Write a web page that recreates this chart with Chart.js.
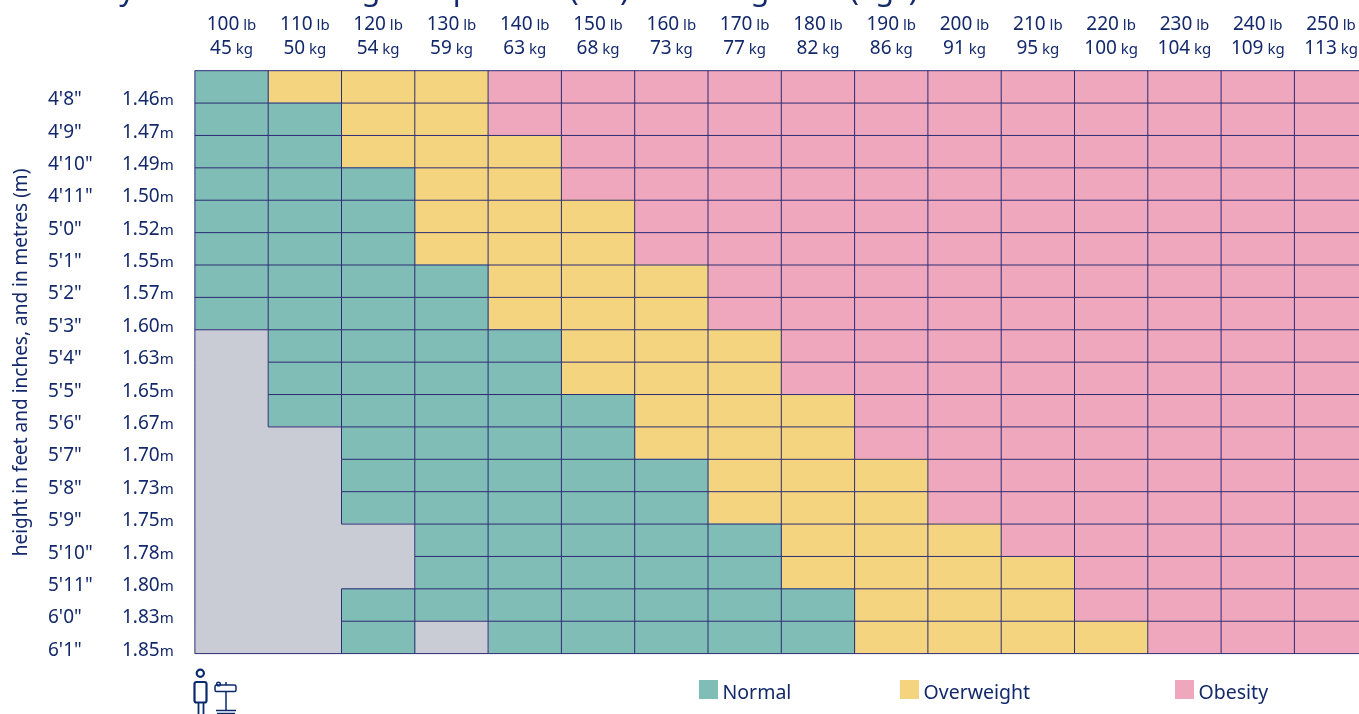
<!DOCTYPE html>
<html>
<head>
<meta charset="utf-8">
<title>Body mass index chart</title>
<script src="https://cdn.jsdelivr.net/npm/chart.js@4"></script>
<style>
html, body { margin: 0; padding: 0; overflow: hidden; background: #fff; width: 1359px; height: 714px; }
canvas { display: block; }
</style>
</head>
<body>
<canvas id="bmiChart" width="1376" height="714"></canvas>
<script>
const titleText = "Body mass index weight in pounds (lbs) and kilograms (kgs)";
const yTitleText = "height in feet and inches, and in metres (m)";
const pounds = [100, 110, 120, 130, 140, 150, 160, 170, 180, 190, 200, 210, 220, 230, 240, 250];
const kilos = [45, 50, 54, 59, 63, 68, 73, 77, 82, 86, 91, 95, 100, 104, 109, 113];
const feetInches = ["4'8\"", "4'9\"", "4'10\"", "4'11\"", "5'0\"", "5'1\"", "5'2\"", "5'3\"", "5'4\"", "5'5\"", "5'6\"", "5'7\"", "5'8\"", "5'9\"", "5'10\"", "5'11\"", "6'0\"", "6'1\""];
const metres = ["1.46", "1.47", "1.49", "1.50", "1.52", "1.55", "1.57", "1.60", "1.63", "1.65", "1.67", "1.70", "1.73", "1.75", "1.78", "1.80", "1.83", "1.85"];
// one string per height, one letter per weight column: U none, N normal, O overweight, B obesity
const bmiClass = [
    "NOOOBBBBBBBBBBBB",
    "NNOOBBBBBBBBBBBB",
    "NNOOOBBBBBBBBBBB",
    "NNNOOBBBBBBBBBBB",
    "NNNOOOBBBBBBBBBB",
    "NNNOOOBBBBBBBBBB",
    "NNNNOOOBBBBBBBBB",
    "NNNNOOOBBBBBBBBB",
    "UNNNNOOOBBBBBBBB",
    "UNNNNOOOBBBBBBBB",
    "UNNNNNOOOBBBBBBB",
    "UUNNNNOOOBBBBBBB",
    "UUNNNNNOOOBBBBBB",
    "UUNNNNNOOOBBBBBB",
    "UUUNNNNNOOOBBBBB",
    "UUUNNNNNOOOOBBBB",
    "UUNNNNNNNOOOBBBB",
    "UUNUNNNNNOOOOBBB"
];
const legendLabels = ["Normal", "Overweight", "Obesity"];
const legendKeys = ["N", "O", "B"];
const legendX = [699, 900, 1175];
const colors = { U: "#c9ccd5", N: "#80bdb7", O: "#f5d480", B: "#efa7be" };
const navy = "#13296b";
const gridLine = "#2c2c74";
const font = '"Noto Sans"';

function cellAt(row, col) {
    return bmiClass[row][col];
}

let datasets = pounds.map((lb, col) => ({
    label: lb + " lb",
    data: metres.map(() => 1),
    backgroundColor: ctx => colors[cellAt(ctx.dataIndex, col)],
    borderWidth: 0,
    inflateAmount: 0.5,
    categoryPercentage: 1,
    barPercentage: 1
}));

function mixedText(c, big, small, x, y, bigSize, smallSize, align) {
    c.font = bigSize + "px " + font;
    let w1 = c.measureText(big).width;
    c.font = smallSize + "px " + font;
    let w2 = c.measureText(small).width;
    let startX = align === "center" ? x - (w1 + w2) / 2 : x;
    c.textAlign = "left";
    c.font = bigSize + "px " + font;
    c.fillText(big, startX, y);
    c.font = smallSize + "px " + font;
    c.fillText(small, startX + w1, y);
}

function strokeLine(c, x1, y1, x2, y2) {
    c.beginPath();
    c.moveTo(x1, y1);
    c.lineTo(x2, y2);
    c.stroke();
}

// cell edges, taken from the scales; two grey cells have no line between them
const cellLinesPlugin = {
    id: "cellLines",
    afterDatasetsDraw(chart) {
        let c = chart.ctx, xs = chart.scales.x, area = chart.chartArea;
        let rowH = (area.bottom - area.top) / bmiClass.length;
        let rowTop = r => area.top + r * rowH;
        c.save();
        c.strokeStyle = gridLine;
        c.lineWidth = 1;
        for (let r = 0; r < bmiClass.length; r++) {
            for (let col = 0; col < pounds.length; col++) {
                let x1 = xs.getPixelForValue(col), x2 = xs.getPixelForValue(col + 1);
                if (col + 1 < pounds.length && !(cellAt(r, col) === "U" && cellAt(r, col + 1) === "U")) {
                    strokeLine(c, x2, rowTop(r), x2, rowTop(r + 1));
                }
                if (r + 1 < bmiClass.length && !(cellAt(r, col) === "U" && cellAt(r + 1, col) === "U")) {
                    strokeLine(c, x1, rowTop(r + 1), x2, rowTop(r + 1));
                }
            }
        }
        strokeLine(c, area.left, area.top, area.right, area.top);
        strokeLine(c, area.left, area.bottom, area.right, area.bottom);
        strokeLine(c, area.left, area.top, area.left, area.bottom);
        c.restore();
    }
};

const labelsPlugin = {
    id: "bmiLabels",
    afterDraw(chart) {
        let c = chart.ctx, xs = chart.scales.x, ys = chart.scales.y;
        c.save();
        c.fillStyle = navy;
        c.textBaseline = "alphabetic";

        // title, cut by the top of the page like in the original
        c.textAlign = "left";
        c.font = "30.6px " + font;
        c.fillText(titleText, 62, 0.3);

        pounds.forEach((lb, i) => {
            let x = xs.getPixelForValue(i + 0.5);
            mixedText(c, String(lb), " lb", x, 30, 19, 15, "center");
            mixedText(c, String(kilos[i]), " kg", x, 54, 19, 15, "center");
        });

        feetInches.forEach((fi, i) => {
            let y = ys.getPixelForValue(i) + 18.3;
            c.textAlign = "left";
            c.font = "19px " + font;
            c.fillText(fi, 48, y);
            mixedText(c, metres[i], "m", 122, y, 19, 15, "left");
        });

        c.save();
        c.translate(27, 362.5);
        c.rotate(-Math.PI / 2);
        c.textAlign = "center";
        c.font = "19px " + font;
        c.fillText(yTitleText, 0, 0);
        c.restore();

        // legend
        legendLabels.forEach((name, i) => {
            c.fillStyle = colors[legendKeys[i]];
            c.fillRect(legendX[i], 680, 19, 19);
            c.fillStyle = navy;
            c.textAlign = "left";
            c.font = "19.5px " + font;
            c.fillText(name, legendX[i] + 23.5, 699);
        });

        // person and scale icon
        c.strokeStyle = "#0a2a6e";
        c.lineWidth = 2.2;
        c.beginPath();
        c.arc(200.3, 673.3, 3.6, 0, Math.PI * 2);
        c.stroke();
        c.beginPath();
        c.roundRect(194.5, 682, 12, 20.5, 2);
        c.stroke();
        c.lineWidth = 1.8;
        c.beginPath();
        c.moveTo(198.5, 703); c.lineTo(198.5, 714);
        c.moveTo(203.5, 703); c.lineTo(203.5, 714);
        c.stroke();
        c.lineWidth = 1.5;
        c.beginPath();
        c.roundRect(215, 685, 21, 6.5, 1.5);
        c.moveTo(226, 691.5); c.lineTo(226, 710);
        c.moveTo(216, 710.5); c.lineTo(236, 710.5);
        c.moveTo(217, 713.5); c.lineTo(235, 713.5);
        c.moveTo(226, 682); c.lineTo(226, 685);
        c.stroke();
        c.beginPath();
        c.arc(218.5, 684, 1.8, 0, Math.PI * 2);
        c.stroke();
        c.restore();
    }
};

document.addEventListener("DOMContentLoaded", () => {
    let ctx = document.getElementById("bmiChart").getContext("2d");
    new Chart(ctx, {
        type: "bar",
        data: { labels: feetInches, datasets: datasets },
        options: {
            indexAxis: "y",
            responsive: false,
            animation: false,
            layout: { padding: { left: 194.9, top: 70.7, right: 8.3, bottom: 60.4 } },
            plugins: { legend: { display: false }, tooltip: { enabled: false } },
            scales: {
                x: {
                    stacked: true,
                    min: 0,
                    max: pounds.length,
                    position: "top",
                    ticks: { display: false },
                    grid: { display: false, drawTicks: false, tickLength: 0 },
                    border: { display: false }
                },
                y: {
                    stacked: true,
                    ticks: { display: false },
                    grid: { display: false, drawTicks: false, tickLength: 0 },
                    border: { display: false }
                }
            }
        },
        plugins: [cellLinesPlugin, labelsPlugin]
    });
});
</script>
</body>
</html>
